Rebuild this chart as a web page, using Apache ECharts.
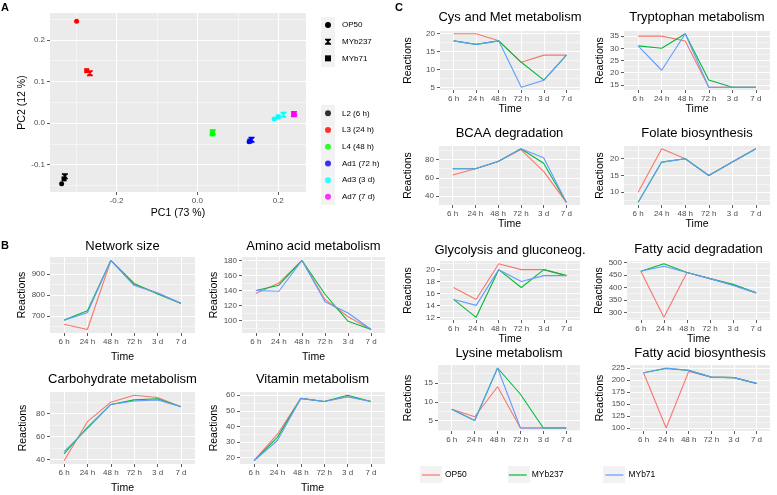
<!DOCTYPE html>
<html>
<head>
<meta charset="utf-8">
<script src="https://cdn.jsdelivr.net/npm/echarts@6/dist/echarts.min.js"></script>
<style>
  html, body { margin: 0; background: #fff; }
  #chart { width: 777px; height: 495px; }
</style>
</head>
<body>
<div id="chart"></div>
<script>
const FONT = '"Liberation Sans", Arial, sans-serif'

const times = ['6 h', '24 h', '48 h', '72 h', '3 d', '7 d']
const strains = ['OP50', 'MYb237', 'MYb71']
const strainColors = ['#F8766D', '#00BA38', '#619CFF']

// A: PCA
const stages = ['L2 (6 h)', 'L3 (24 h)', 'L4 (48 h)', 'Ad1 (72 h)', 'Ad3 (3 d)', 'Ad7 (7 d)']
const stageColors = ['#000000', '#FF0000', '#00FF00', '#0000FF', '#00FFFF', '#FF00FF']
const pc1OP50   = [-0.336, -0.299, 0.037, 0.128, 0.190, 0.240]
const pc2OP50   = [-0.146,  0.245, -0.024, -0.045, 0.010, 0.021]
const pc1MYb237 = [-0.328, -0.266, 0.038, 0.134, 0.213, 0.239]
const pc2MYb237 = [-0.128,  0.120, -0.022, -0.040, 0.020, 0.022]
const pc1MYb71  = [-0.330, -0.274, 0.037, 0.130, 0.200, 0.238]
const pc2MYb71  = [-0.134,  0.126, -0.026, -0.043, 0.015, 0.020]
const pc1Ticks = [-0.2, 0.0, 0.2]
const pc2Ticks = [-0.1, 0.0, 0.1, 0.2]

// B
const netOP50   = [660, 635, 965, 850, 810, 760]
const netMYb237 = [680, 725, 965, 855, 805, 760]
const netMYb71  = [680, 715, 965, 845, 810, 760]
const netTicks  = [700, 800, 900]

const aminoOP50   = [136, 150, 180, 128, 105, 88]
const aminoMYb237 = [140, 147, 180, 135, 99, 88]
const aminoMYb71  = [140, 139, 180, 125, 110, 88]
const aminoTicks  = [100, 120, 140, 160, 180]

const carbOP50   = [39, 73, 90, 96, 94, 86]
const carbMYb237 = [45, 68, 88, 92, 93, 86]
const carbMYb71  = [47, 67, 88, 91, 92, 86]
const carbTicks  = [40, 60, 80]

const vitOP50   = [18, 35, 58, 56, 59, 56]
const vitMYb237 = [18, 33, 58, 56, 60, 56]
const vitMYb71  = [18, 31, 58, 56, 59, 56]
const vitTicks  = [20, 30, 40, 50, 60]

// C
const cysOP50   = [20, 20, 18, 12, 14, 14]
const cysMYb237 = [18, 17, 18, 12, 7, 14]
const cysMYb71  = [18, 17, 18, 5, 7, 14]
const cysTicks  = [5, 10, 15, 20]

const trpOP50   = [35, 35, 33, 14, 14, 14]
const trpMYb237 = [31, 30, 36, 17, 14, 14]
const trpMYb71  = [31, 21, 36, 14, 14, 14]
const trpTicks  = [15, 20, 25, 30, 35]

const bcaaOP50   = [63, 70, 78, 91, 67, 33]
const bcaaMYb237 = [70, 70, 78, 92, 76, 33]
const bcaaMYb71  = [70, 70, 78, 92, 82, 33]
const bcaaTicks  = [40, 60, 80]

const folOP50   = [10, 23, 20, 15, 19, 23]
const folMYb237 = [7, 19, 20, 15, 19, 23]
const folMYb71  = [7, 19, 20, 15, 19, 23]
const folTicks  = [10, 15, 20]

const glyOP50   = [17, 15, 21, 20, 20, 19]
const glyMYb237 = [15, 12, 20, 17, 20, 19]
const glyMYb71  = [15, 14, 20, 18, 19, 19]
const glyTicks  = [12, 14, 16, 18, 20]

const fadOP50   = [465, 280, 460, 435, 410, 378]
const fadMYb237 = [465, 495, 460, 435, 412, 378]
const fadMYb71  = [465, 485, 460, 435, 408, 378]
const fadTicks  = [300, 350, 400, 450, 500]

const lysOP50   = [8, 6, 14, 3, 3, 3]
const lysMYb237 = [8, 5, 19, 12, 3, 3]
const lysMYb71  = [8, 5, 19, 3, 3, 3]
const lysTicks  = [5, 10, 15]

const fabOP50   = [215, 100, 218, 206, 205, 193]
const fabMYb237 = [215, 224, 220, 206, 205, 193]
const fabMYb71  = [215, 225, 220, 206, 205, 193]
const fabTicks  = [100, 125, 150, 175, 200, 225]

// layout of the small multiples: [left, top, width, height]
const panels = [
  { title: 'Network size', vals: [netOP50, netMYb237, netMYb71], ticks: netTicks, box: [50, 257, 145, 76], titleY: 246, gapY: 20, gapX: 19 },
  { title: 'Amino acid metabolism', vals: [aminoOP50, aminoMYb237, aminoMYb71], ticks: aminoTicks, box: [242, 257, 143, 76], titleY: 246, gapY: 22, gapX: 19 },
  { title: 'Carbohydrate metabolism', vals: [carbOP50, carbMYb237, carbMYb71], ticks: carbTicks, box: [50, 392, 145, 76], titleY: 379, gapY: 21, gapX: 19 },
  { title: 'Vitamin metabolism', vals: [vitOP50, vitMYb237, vitMYb71], ticks: vitTicks, box: [240, 392, 145, 76], titleY: 379, gapY: 20, gapX: 19 },
  { title: 'Cys and Met metabolism', vals: [cysOP50, cysMYb237, cysMYb71], ticks: cysTicks, box: [440, 31, 140, 59], titleY: 17, gapY: 26, gapX: 14 },
  { title: 'Tryptophan metabolism', vals: [trpOP50, trpMYb237, trpMYb71], ticks: trpTicks, box: [624, 31, 146, 59], titleY: 17, gapY: 18, gapX: 14 },
  { title: 'BCAA degradation', vals: [bcaaOP50, bcaaMYb237, bcaaMYb71], ticks: bcaaTicks, box: [439, 146, 141, 59], titleY: 133, gapY: 25, gapX: 14 },
  { title: 'Folate biosynthesis', vals: [folOP50, folMYb237, folMYb71], ticks: folTicks, box: [624, 146, 146, 59], titleY: 133, gapY: 18, gapX: 14 },
  { title: 'Glycolysis and gluconeog.', vals: [glyOP50, glyMYb237, glyMYb71], ticks: glyTicks, box: [440, 261, 140, 59], titleY: 250, gapY: 26, gapX: 14 },
  { title: 'Fatty acid degradation', vals: [fadOP50, fadMYb237, fadMYb71], ticks: fadTicks, box: [627, 261, 143, 59], titleY: 249, gapY: 21, gapX: 14 },
  { title: 'Lysine metabolism', vals: [lysOP50, lysMYb237, lysMYb71], ticks: lysTicks, box: [438, 365, 142, 66], titleY: 353, gapY: 24, gapX: null },
  { title: 'Fatty acid biosynthesis', vals: [fabOP50, fabMYb237, fabMYb71], ticks: fabTicks, box: [630, 365, 140, 66], titleY: 353, gapY: 24, gapX: null }
]

const HOURGLASS = 'path://M0,0L10,0L10,2L6,5L10,8L10,10L0,10L0,8L4,5L0,2Z'
const shapeSymbols = { OP50: 'circle', MYb237: HOURGLASS, MYb71: 'rect' }
const shapeSizes = { OP50: 5, MYb237: 6, MYb71: 5 }

const grid = [], xAxis = [], yAxis = [], series = [], graphic = []

// ggplot-style 5% expansion of a continuous range
function expand(arr) {
  const lo = Math.min(...arr), hi = Math.max(...arr), d = (hi - lo) * 0.05
  return [lo - d, hi + d]
}
// minor grid positions halfway between the major ticks
function minors(ticks, lo, hi) {
  const step = ticks[1] - ticks[0], out = []
  for (let v = ticks[0] - step / 2; v <= hi + 1e-9; v += step) {
    if (v >= lo) out.push(+v.toFixed(6))
  }
  return out
}
function addGrid(box) {
  grid.push({ left: box[0], top: box[1], width: box[2], height: box[3], show: true, backgroundColor: '#EBEBEB', borderWidth: 0 })
  return grid.length - 1
}
function mainAxis(g, pos, lo, hi, ticks, fmt, extra) {
  return Object.assign({
    gridIndex: g, type: 'value', position: pos, min: lo, max: hi,
    axisLine: { show: false, onZero: false },
    axisTick: { show: true, length: 3, customValues: ticks, lineStyle: { color: '#333', width: 0.8 } },
    axisLabel: { customValues: ticks, formatter: fmt, color: '#4D4D4D', fontSize: 8, margin: 5, fontFamily: FONT },
    splitLine: { show: true, lineStyle: { color: '#FFFFFF', width: 1.1 } },
    nameTextStyle: { fontSize: 10.5, color: '#000', fontFamily: FONT }
  }, extra)
}
function minorAxis(g, pos, lo, hi, vals) {
  return {
    gridIndex: g, type: 'value', position: pos, min: lo, max: hi,
    axisLine: { show: false, onZero: false },
    axisTick: { show: false, customValues: vals },
    axisLabel: { show: false, customValues: vals },
    splitLine: { show: true, lineStyle: { color: '#FFFFFF', width: 0.5 } }
  }
}
function text(str, x, y, size, bold) {
  graphic.push({
    type: 'text', x, y, z: 10,
    style: {
      text: str, fill: '#000', font: (bold ? 'bold ' : '') + size + 'px ' + FONT,
      align: 'center', verticalAlign: 'middle', textAlign: 'center', textVerticalAlign: 'middle'
    }
  })
}

// ---- panel A
const [xa0, xa1] = expand(pc1OP50.concat(pc1MYb237, pc1MYb71))
const [ya0, ya1] = expand(pc2OP50.concat(pc2MYb237, pc2MYb71))
const gA = addGrid([50, 13, 256, 179])
xAxis.push(minorAxis(gA, 'top', xa0, xa1, minors(pc1Ticks, xa0, xa1)))
yAxis.push(minorAxis(gA, 'right', ya0, ya1, minors(pc2Ticks, ya0, ya1)))
const xA = xAxis.length, yA = yAxis.length
xAxis.push(mainAxis(gA, 'bottom', xa0, xa1, pc1Ticks, v => v.toFixed(1), { name: 'PC1 (73 %)', nameLocation: 'middle', nameGap: 16 }))
yAxis.push(mainAxis(gA, 'left', ya0, ya1, pc2Ticks, v => v.toFixed(1), { name: 'PC2 (12 %)', nameLocation: 'middle', nameGap: 15 }))

const pcaSets = [['OP50', pc1OP50, pc2OP50], ['MYb237', pc1MYb237, pc2MYb237], ['MYb71', pc1MYb71, pc2MYb71]]
pcaSets.forEach(([name, xs, ys]) => {
  series.push({
    type: 'scatter', name: 'A:' + name, xAxisIndex: xA, yAxisIndex: yA,
    symbol: shapeSymbols[name], symbolSize: shapeSizes[name],
    itemStyle: { color: '#000', opacity: 1 },
    data: xs.map((x, i) => ({ value: [x, ys[i]], itemStyle: { color: stageColors[i] } }))
  })
})
// empty series only to feed the colour legend
stages.forEach((s, i) => {
  series.push({ type: 'scatter', name: s, xAxisIndex: xA, yAxisIndex: yA, symbol: 'circle', itemStyle: { color: stageColors[i] }, data: [] })
})

// ---- panels B and C
panels.forEach(p => {
  const g = addGrid(p.box)
  const [lo, hi] = expand([].concat(...p.vals))
  yAxis.push(minorAxis(g, 'right', lo, hi, minors(p.ticks, lo, hi)))
  const xi = xAxis.length, yi = yAxis.length
  const xExtra = p.gapX == null ? {} : { name: 'Time', nameLocation: 'middle', nameGap: p.gapX }
  xAxis.push(mainAxis(g, 'bottom', 0.4, 6.6, [1, 2, 3, 4, 5, 6], v => times[Math.round(v) - 1], xExtra))
  yAxis.push(mainAxis(g, 'left', lo, hi, p.ticks, v => String(v), { name: 'Reactions', nameLocation: 'middle', nameGap: p.gapY }))
  p.vals.forEach((vals, s) => {
    series.push({
      type: 'line', name: strains[s], xAxisIndex: xi, yAxisIndex: yi,
      data: vals.map((v, i) => [i + 1, v]),
      symbol: 'none', color: strainColors[s],
      lineStyle: { color: strainColors[s], width: 1.1 }
    })
  })
  text(p.title, p.box[0] + p.box[2] / 2, p.titleY, 13)
})

text('A', 5, 8, 11, true)
text('B', 5, 246, 11, true)
text('C', 399, 8, 11, true)

// grey legend key backgrounds
graphic.push({ type: 'rect', shape: { x: 321, y: 17, width: 14, height: 50 }, style: { fill: '#F2F2F2' }, z: 0 })
graphic.push({ type: 'rect', shape: { x: 321, y: 105, width: 14, height: 100 }, style: { fill: '#F2F2F2' }, z: 0 })
strains.forEach((s, i) => {
  graphic.push({ type: 'rect', shape: { x: [420, 508, 603][i], y: 466, width: 22, height: 17 }, style: { fill: '#F2F2F2' }, z: 0 })
})

const legendText = { fontSize: 8, color: '#000', fontFamily: FONT, lineHeight: 16.7, padding: [0, 0, 0, 6] }
const option = {
  animation: false,
  textStyle: { fontFamily: FONT },
  grid, xAxis, yAxis, series, graphic,
  legend: [
    {
      data: strains.map(s => 'A:' + s), formatter: n => n.slice(2), padding: 0,
      orient: 'vertical', left: 325, top: 16.6, itemWidth: 6, itemHeight: 6, itemGap: 0,
      selectedMode: false, textStyle: legendText
    },
    {
      data: stages, orient: 'vertical', left: 325, top: 105, itemWidth: 6, itemHeight: 6, itemGap: 0,
      padding: 0, selectedMode: false, textStyle: legendText
    },
    {
      data: strains, orient: 'horizontal', left: 422, top: 466.5, icon: 'rect', padding: 0,
      itemWidth: 18, itemHeight: 1.2, itemGap: 42, selectedMode: false,
      textStyle: { fontSize: 8.5, color: '#000', fontFamily: FONT, lineHeight: 17 }
    }
  ]
}

const chart = echarts.init(document.getElementById('chart'))
chart.setOption(option)
</script>
</body>
</html>
